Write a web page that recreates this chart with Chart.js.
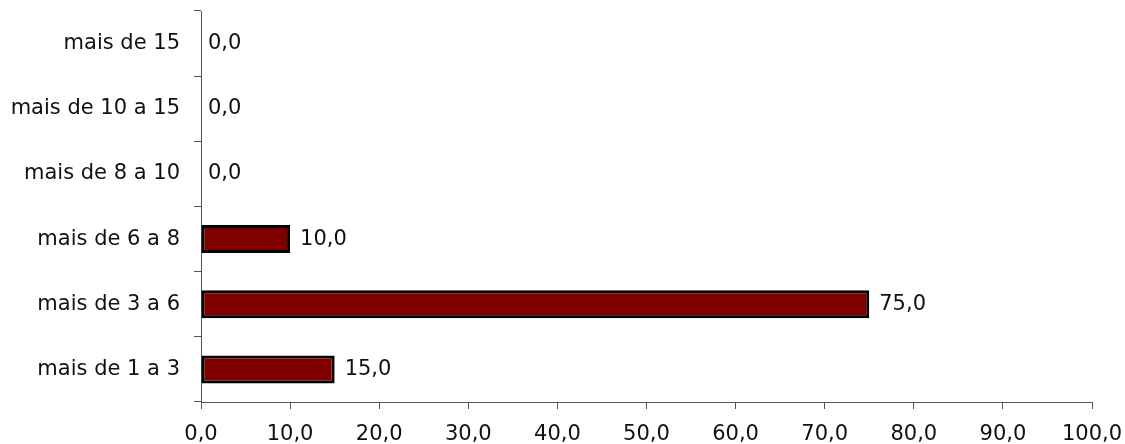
<!DOCTYPE html>
<html>
<head>
<meta charset="utf-8">
<script src="https://cdn.jsdelivr.net/npm/chart.js@4/dist/chart.umd.min.js"></script>
<style>
  html, body { margin: 0; padding: 0; background: #fff; }
  #wrap { width: 1125px; height: 444px; position: relative; }
</style>
</head>
<body>
<div id="wrap"><canvas id="c"></canvas></div>
<script>
// Categories listed top to bottom as they appear
const categories = ["mais de 15", "mais de 10 a 15", "mais de 8 a 10", "mais de 6 a 8", "mais de 3 a 6", "mais de 1 a 3"];
const values = [0.0, 0.0, 0.0, 10.0, 75.0, 15.0];
const xTickMin = 0;
const xTickMax = 100;
const xTickStep = 10;

const FONT = "'DejaVu Sans', Verdana, sans-serif";
const FSIZE = 21;
const fmt = v => Number(v).toFixed(1).replace('.', ',');

const valueLabels = {
  id: 'valueLabels',
  afterDatasetsDraw(chart) {
    const ctx = chart.ctx;
    const meta = chart.getDatasetMeta(0);
    const xs = chart.scales.x;
    ctx.save();
    ctx.font = FSIZE + "px " + FONT;
    ctx.fillStyle = '#111';
    ctx.textAlign = 'left';
    ctx.textBaseline = 'middle';
    meta.data.forEach((bar, i) => {
      const v = values[i];
      const x = xs.getPixelForValue(v) + (v === 0 ? 7 : 10);
      ctx.fillText(fmt(v), x, bar.y);
    });
    ctx.restore();
  }
};

new Chart(document.getElementById('c'), {
  type: 'bar',
  data: {
    labels: categories,
    datasets: [{
      data: values,
      backgroundColor: '#800000',
      borderColor: '#000000',
      borderWidth: 3,
      borderSkipped: false,
      barPercentage: 0.43,
      categoryPercentage: 1.0
    }]
  },
  options: {
    indexAxis: 'y',
    responsive: true,
    maintainAspectRatio: false,
    animation: false,
    layout: { padding: { top: 11, right: 33, left: 0, bottom: 0 } },
    plugins: { legend: { display: false }, tooltip: { enabled: false } },
    scales: {
      x: {
        min: xTickMin,
        max: xTickMax,
        afterFit: s => { s.height = 42; s.paddingLeft = 0; s.paddingRight = 0; },
        ticks: {
          stepSize: xTickStep,
          color: '#111',
          font: { family: FONT, size: FSIZE },
          padding: 13,
          maxRotation: 0,
          callback: v => fmt(v)
        },
        grid: { drawOnChartArea: false, drawTicks: true, tickLength: 7, color: '#555' },
        border: { display: true, color: '#555', width: 1 }
      },
      y: {
        afterFit: s => { s.width = 201; s.paddingTop = 0; s.paddingBottom = 0; },
        ticks: {
          color: '#111',
          font: { family: FONT, size: FSIZE },
          padding: 14
        },
        grid: { drawOnChartArea: false, drawTicks: true, tickLength: 7, offset: true, color: '#555' },
        border: { display: true, color: '#555', width: 1 }
      }
    }
  },
  plugins: [valueLabels]
});
</script>
</body>
</html>
